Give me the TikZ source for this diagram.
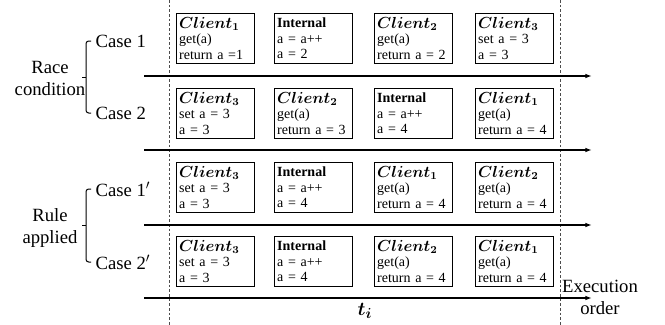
\documentclass[tikz,border=0pt]{standalone}
\usepackage{amsmath}
\usepackage{fontspec}
\setmainfont{Liberation Serif}
\usetikzlibrary{arrows.meta,calc}

\begin{document}
\begin{tikzpicture}[x=0.75pt,y=0.75pt,yscale=-1,xscale=1,
  evbox/.style={draw,line width=0.75,anchor=north west,minimum width=58.5pt,minimum height=37.5pt,text width=54.5pt,inner xsep=2pt,inner ysep=1pt,align=left,font=\fontsize{10.5}{11.6}\selectfont},
  tline/.style={line width=1,-{Latex[length=5pt,width=3.5pt]}},
  bound/.style={line width=0.5,color=black!70,dash pattern=on 2pt off 1.5pt},
  cbrace/.style={line width=0.75,rounded corners=2pt},
  lbl/.style={font=\fontsize{14}{16.5}\selectfont,align=center}]
\useasboundingbox (0,0) rectangle (665,325);

%Straight Lines [id:bound] 
\draw [bound] (169,0) -- (169,325) ;
\draw [bound] (560,0) -- (560,325) ;

% Text Node (row 1)
\node [evbox] (r1a) at (176,13) {{\large$\boldsymbol{Client_1}$}\\get(a)\\return a =1};
\node [evbox] (r1b) at (274,13) {\textbf{Internal}\\a = a++\\a = 2};
\node [evbox] (r1c) at (374,13) {{\large$\boldsymbol{Client_2}$}\\get(a)\\return a = 2};
\node [evbox] (r1d) at (475,13) {{\large$\boldsymbol{Client_3}$}\\set a = 3\\a = 3};
% Text Node (row 2)
\node [evbox] (r2a) at (176,88) {{\large$\boldsymbol{Client_3}$}\\set a = 3\\a = 3};
\node [evbox] (r2b) at (274,88) {{\large$\boldsymbol{Client_2}$}\\get(a)\\return a = 3};
\node [evbox] (r2c) at (374,88) {\textbf{Internal}\\a = a++\\a = 4};
\node [evbox] (r2d) at (475,88) {{\large$\boldsymbol{Client_1}$}\\get(a)\\return a = 4};
% Text Node (row 3)
\node [evbox] (r3a) at (176,162) {{\large$\boldsymbol{Client_3}$}\\set a = 3\\a = 3};
\node [evbox] (r3b) at (274,162) {\textbf{Internal}\\a = a++\\a = 4};
\node [evbox] (r3c) at (374,162) {{\large$\boldsymbol{Client_1}$}\\get(a)\\return a = 4};
\node [evbox] (r3d) at (475,162) {{\large$\boldsymbol{Client_2}$}\\get(a)\\return a = 4};
% Text Node (row 4)
\node [evbox] (r4a) at (176,236) {{\large$\boldsymbol{Client_3}$}\\set a = 3\\a = 3};
\node [evbox] (r4b) at (274,236) {\textbf{Internal}\\a = a++\\a = 4};
\node [evbox] (r4c) at (374,236) {{\large$\boldsymbol{Client_2}$}\\get(a)\\return a = 4};
\node [evbox] (r4d) at (475,236) {{\large$\boldsymbol{Client_1}$}\\get(a)\\return a = 4};

%Straight Lines [id:timelines] 
\coordinate (s1) at (144,76);  \coordinate (e1) at (592,76);
\coordinate (s2) at (144,150); \coordinate (e2) at (592,150);
\coordinate (s3) at (144,225); \coordinate (e3) at (592,225);
\coordinate (s4) at (144,298); \coordinate (e4) at (592,298);
\draw [tline] (s1) -- (e1) ;
\draw [tline] (s2) -- (e2) ;
\draw [tline] (s3) -- (e3) ;
\draw [tline] (s4) -- (e4) ;

% Text Node
\node [lbl,anchor=west] (case1) at (91,41) {Case 1};
\node [lbl,anchor=west] (case2) at (91,113) {Case 2};
\node [lbl,anchor=west] (case3) at (91,189) {Case 1$'$};
\node [lbl,anchor=west] (case4) at (91,262) {Case 2$'$};
\node [lbl] (race) at (50,78) {Race\\condition};
\node [lbl] (rule) at (50,228) {Rule\\applied};
\node [lbl] (exec) at (600,297) {Execution\\order};
\node [lbl,font=\fontsize{15}{16}\selectfont] (ti) at (365,311) {$\boldsymbol{t_i}$};

%Curve Lines [id:braces] 
\draw [cbrace] (case1.west) -- ++(-5,0) |- (case2.west) ;
\draw [line width=0.75] ($(case1.west)!0.5!(case2.west)+(-5,0)$) -- ++(-4,0) ;
\draw [cbrace] (case3.west) -- ++(-5,0) |- (case4.west) ;
\draw [line width=0.75] ($(case3.west)!0.5!(case4.west)+(-5,0)$) -- ++(-4,0) ;

\end{tikzpicture}
\end{document}
